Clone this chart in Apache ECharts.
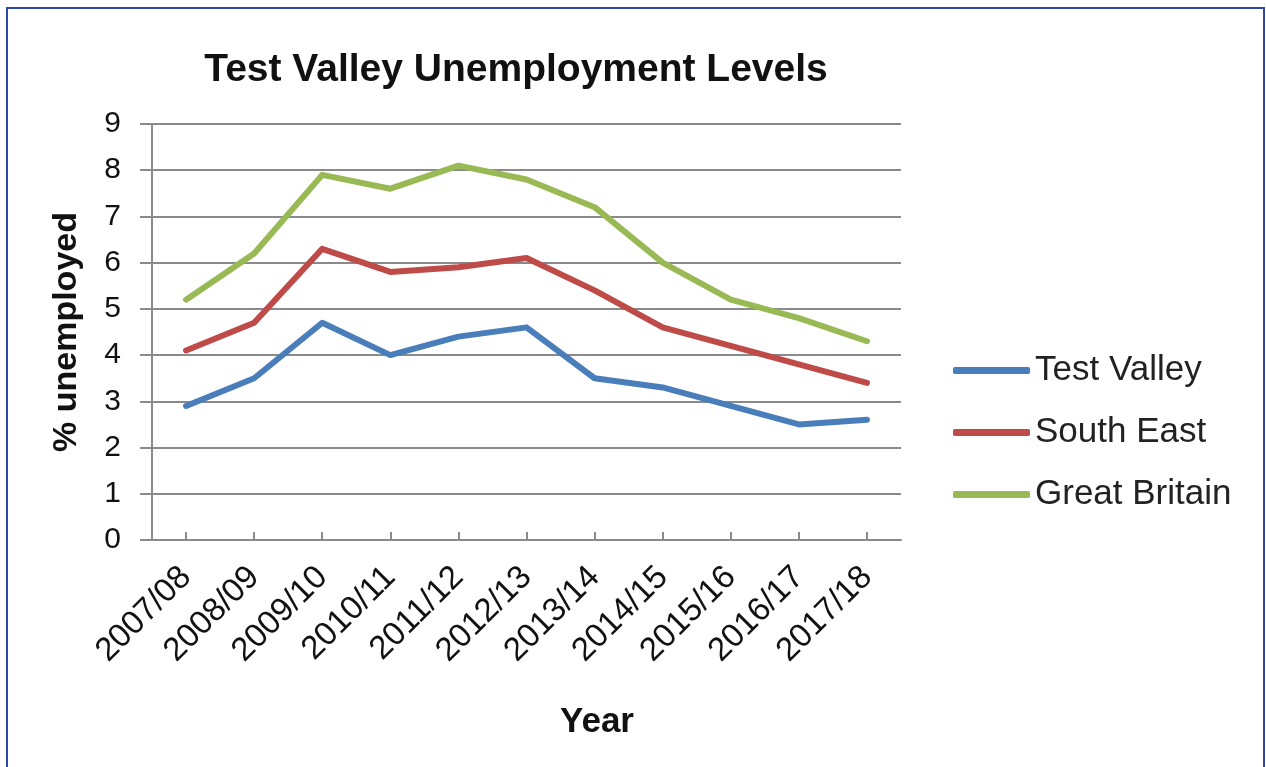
<!DOCTYPE html>
<html>
<head>
<meta charset="utf-8">
<title>Test Valley Unemployment Levels</title>
<script src="https://cdn.jsdelivr.net/npm/echarts@6/dist/echarts.min.js"></script>
<style>
  html, body { margin: 0; padding: 0; background: #ffffff; }
  #chart { width: 1266px; height: 767px; }
  #frame {
    position: absolute; left: 6px; top: 7px; width: 1255px; height: 800px;
    border-left: 2px solid #2d48a8; border-top: 2px solid #2d48a8; border-right: 2px solid #2d48a8;
    pointer-events: none;
  }
</style>
</head>
<body>
<div id="chart"></div>
<div id="frame"></div>
<script>
// Financial years on the horizontal axis
const years = ['2007/08', '2008/09', '2009/10', '2010/11', '2011/12', '2012/13',
               '2013/14', '2014/15', '2015/16', '2016/17', '2017/18'];

// Percentage of the working-age population unemployed
const testValley   = [2.9, 3.5, 4.7, 4.0, 4.4, 4.6, 3.5, 3.3, 2.9, 2.5, 2.6];
const southEast    = [4.1, 4.7, 6.3, 5.8, 5.9, 6.1, 5.4, 4.6, 4.2, 3.8, 3.4];
const greatBritain = [5.2, 6.2, 7.9, 7.6, 8.1, 7.8, 7.2, 6.0, 5.2, 4.8, 4.3];

const seriesNames = ['Test Valley', 'South East', 'Great Britain'];
const seriesColors = ['#4a7ebb', '#be4b48', '#98b954'];

const FONT = '"Liberation Sans", Arial, sans-serif';

function lineSeries(name, values, color) {
  return {
    name: name,
    type: 'line',
    data: values,
    showSymbol: false,
    symbol: 'none',
    color: color,
    lineStyle: { width: 6, color: color, cap: 'round', join: 'round' },
    emphasis: { disabled: true }
  };
}

const chart = echarts.init(document.getElementById('chart'), null, { renderer: 'canvas' });
chart.setOption({
  animation: false,
  backgroundColor: '#ffffff',
  title: {
    text: 'Test Valley Unemployment Levels',
    left: 511,
    top: 46,
    textAlign: 'center',
    textStyle: { fontFamily: FONT, fontSize: 39, fontWeight: 'bold', color: '#111' }
  },
  legend: {
    orient: 'vertical',
    left: 948,
    top: 347,
    itemWidth: 77,
    itemHeight: 7,
    itemGap: 25,
    icon: 'roundRect',
    data: seriesNames,
    textStyle: { fontFamily: FONT, fontSize: 35, color: '#222', lineHeight: 37 }
  },
  grid: { left: 152, right: 365, top: 124, bottom: 227, containLabel: false },
  graphic: [{
    type: 'text',
    x: 597,
    y: 722,
    style: {
      text: 'Year', fontFamily: FONT, fontSize: 35, fontWeight: 'bold', fill: '#111',
      align: 'center', verticalAlign: 'middle'
    }
  }],
  xAxis: {
    type: 'category',
    data: years,
    boundaryGap: true,
    axisLine: { show: true, lineStyle: { color: '#8a8a8a', width: 2 } },
    axisTick: { show: true, inside: true, alignWithLabel: true, length: 8, lineStyle: { color: '#8a8a8a', width: 2 } },
    axisLabel: { rotate: 45, margin: 32, fontFamily: FONT, fontSize: 33, color: '#111', interval: 0 },
    splitLine: { show: false }
  },
  yAxis: {
    type: 'value',
    min: 0,
    max: 9,
    interval: 1,
    name: '% unemployed',
    nameLocation: 'middle',
    nameGap: 68,
    nameTextStyle: { fontFamily: FONT, fontSize: 34, fontWeight: 'bold', color: '#111' },
    axisLine: { show: true, lineStyle: { color: '#8a8a8a', width: 2 } },
    axisTick: { show: true, inside: false, length: 12, lineStyle: { color: '#8a8a8a', width: 2 } },
    axisLabel: { margin: 31, fontFamily: FONT, fontSize: 30, color: '#111' },
    splitLine: { show: true, lineStyle: { color: '#8a8a8a', width: 2 } }
  },
  series: [
    lineSeries(seriesNames[0], testValley, seriesColors[0]),
    lineSeries(seriesNames[1], southEast, seriesColors[1]),
    lineSeries(seriesNames[2], greatBritain, seriesColors[2])
  ]
});
</script>
</body>
</html>
